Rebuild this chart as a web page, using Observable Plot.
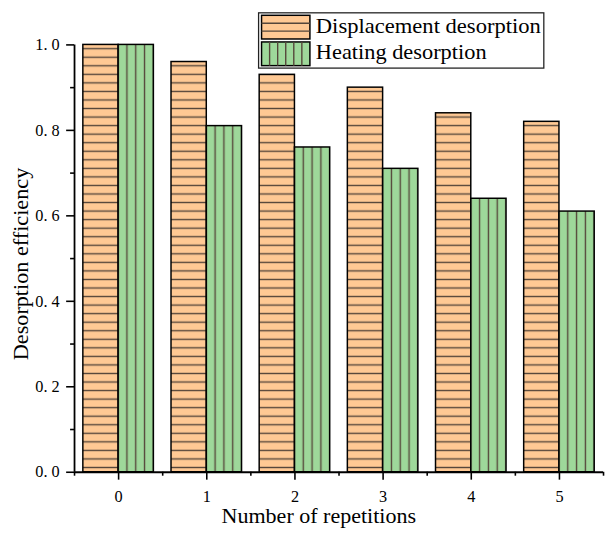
<!DOCTYPE html>
<html>
<head>
<meta charset="utf-8">
<script src="https://cdn.jsdelivr.net/npm/d3@7"></script>
<script src="https://cdn.jsdelivr.net/npm/@observablehq/plot@0.6"></script>
<style>
  html, body { margin: 0; padding: 0; background: white; }
  #chart { width: 606px; height: 535px; overflow: hidden; position: relative; }
</style>
</head>
<body>
<div id="chart"></div>
<script>
// ---- data ----
const repetitions = [0, 1, 2, 3, 4, 5];
const displacement = [1.00, 0.96, 0.93, 0.90, 0.84, 0.82];
const heating = [1.00, 0.81, 0.76, 0.71, 0.64, 0.61];
const seriesNames = ["Displacement desorption", "Heating desorption"];
const yTicks = [0, 0.2, 0.4, 0.6, 0.8, 1.0];
const yMinorTicks = [0.1, 0.3, 0.5, 0.7, 0.9];
const xMinorTicks = [-0.5, 0.5, 1.5, 2.5, 3.5, 4.5, 5.5];
const xLabel = "Number of repetitions";
const yLabel = "Desorption efficiency";

const xDomain = [-0.5, 5.5];
const barWidth = 0.4;

const dispRows = repetitions.map((r, i) => ({rep: r, value: displacement[i]}));
const heatRows = repetitions.map((r, i) => ({rep: r, value: heating[i]}));

const W = 614, H = 535, ML = 75, MR = 3, MT = 45, MB = 57;
const FONT = "'Liberation Serif', 'Times New Roman', serif";
const ORANGE = "#FFC994";
const GREEN = "#9ED89A";
const HATCH = "#55463a";

const svg = Plot.plot({
  width: W, height: H,
  marginLeft: ML, marginRight: MR, marginTop: MT, marginBottom: MB,
  x: {domain: xDomain},
  y: {domain: [0, 1]},
  style: {background: "white", color: "black"},
  marks: [
    Plot.rect(dispRows, {x1: d => d.rep - barWidth, x2: d => d.rep, y1: 0, y2: "value",
      fill: "url(#hatch-h)", stroke: "black", strokeWidth: 1.5}),
    Plot.rect(heatRows, {x1: d => d.rep, x2: d => d.rep + barWidth, y1: 0, y2: "value",
      fill: "url(#hatch-v)", stroke: "black", strokeWidth: 1.5}),
    Plot.ruleY([0], {stroke: "black", strokeWidth: 1.8}),
    Plot.ruleX([xDomain[0]], {y1: 0, y2: 1, stroke: "black", strokeWidth: 1.8}),
    Plot.axisX({ticks: repetitions, tickSize: 8, tickPadding: 10, strokeWidth: 1.6,
      tickFormat: d => String(d), label: null}),
    Plot.axisX({ticks: xMinorTicks, tickSize: 4, strokeWidth: 1.6, tickFormat: () => "", label: null}),
    Plot.axisY({ticks: yTicks, tickSize: 8, tickPadding: 7, strokeWidth: 1.6,
      tickFormat: d => d.toFixed(1).replace(".", ". "), label: null}),
    Plot.axisY({ticks: yMinorTicks, tickSize: 4, strokeWidth: 1.6, tickFormat: () => "", label: null})
  ]
});

document.getElementById("chart").appendChild(svg);

// tick labels: serif, inline style to beat Plot's class css
svg.querySelectorAll("text").forEach(t => {
  t.style.fontFamily = FONT;
  t.style.fontSize = "16.5px";
  t.style.fill = "black";
});

// scales for pattern alignment
const sx = svg.scale("x"), sy = svg.scale("y");
const xs = v => sx.apply(v), ys = v => sy.apply(v);

const root = d3.select(svg);
const defs = root.insert("defs", ":first-child");

// horizontal hatch (displacement) — one stripe every 0.02 of y
const hh = Math.abs(ys(0) - ys(0.02));
const ph = defs.append("pattern").attr("id", "hatch-h")
  .attr("patternUnits", "userSpaceOnUse").attr("width", 10).attr("height", hh)
  .attr("patternTransform", `translate(0, ${ys(0.01) - hh / 2})`);
ph.append("rect").attr("width", 10).attr("height", hh).attr("fill", ORANGE);
ph.append("line").attr("x1", 0).attr("x2", 10).attr("y1", hh / 2).attr("y2", hh / 2)
  .attr("stroke", HATCH).attr("stroke-width", 1.4);

// vertical hatch (heating) — 4 sections per bar
const vw = (xs(1) - xs(0)) * barWidth / 4;
const pv = defs.append("pattern").attr("id", "hatch-v")
  .attr("patternUnits", "userSpaceOnUse").attr("width", vw).attr("height", 10)
  .attr("patternTransform", `translate(${xs(0) - vw / 2}, 0)`);
pv.append("rect").attr("width", vw).attr("height", 10).attr("fill", GREEN);
pv.append("line").attr("y1", 0).attr("y2", 10).attr("x1", vw / 2).attr("x2", vw / 2)
  .attr("stroke", HATCH).attr("stroke-width", 1.4);

function addText(sel, txt, len, size) {
  const t = sel.append("text").text(txt)
    .attr("textLength", len).attr("lengthAdjust", "spacingAndGlyphs");
  t.node().style.fontFamily = FONT;
  t.node().style.fontSize = size + "px";
  t.node().style.fill = "black";
  return t;
}

// axis titles
addText(root, xLabel, 197, 20.5).attr("x", 323).attr("y", 530).attr("text-anchor", "middle");
addText(root, yLabel, 195, 20.5).attr("transform", "translate(28,267.5) rotate(-90)").attr("text-anchor", "middle");

// legend
const lg = root.append("g").attr("text-anchor", "start");
lg.append("rect").attr("x", 262).attr("y", 13).attr("width", 289).attr("height", 56)
  .attr("fill", "white").attr("stroke", "#222").attr("stroke-width", 1.3);
lg.append("rect").attr("x", 265).attr("y", 15.5).attr("width", 49).attr("height", 24)
  .attr("fill", ORANGE).attr("stroke", "black").attr("stroke-width", 1.5);
[23.5, 31.5].forEach(y => lg.append("line").attr("x1", 265).attr("x2", 314).attr("y1", y).attr("y2", y)
  .attr("stroke", HATCH).attr("stroke-width", 1.4));
lg.append("rect").attr("x", 265).attr("y", 42.5).attr("width", 49).attr("height", 24)
  .attr("fill", GREEN).attr("stroke", "black").attr("stroke-width", 1.5);
[1, 2, 3, 4, 5].forEach(k => {
  const x = 265 + k * 49 / 6;
  lg.append("line").attr("x1", x).attr("x2", x).attr("y1", 42.5).attr("y2", 66.5)
    .attr("stroke", HATCH).attr("stroke-width", 1.4);
});
addText(lg, seriesNames[0], 228, 20.5).attr("x", 320).attr("y", 33.5).attr("text-anchor", "start");
addText(lg, seriesNames[1], 173, 20.5).attr("x", 320).attr("y", 59.5).attr("text-anchor", "start");
</script>
</body>
</html>
